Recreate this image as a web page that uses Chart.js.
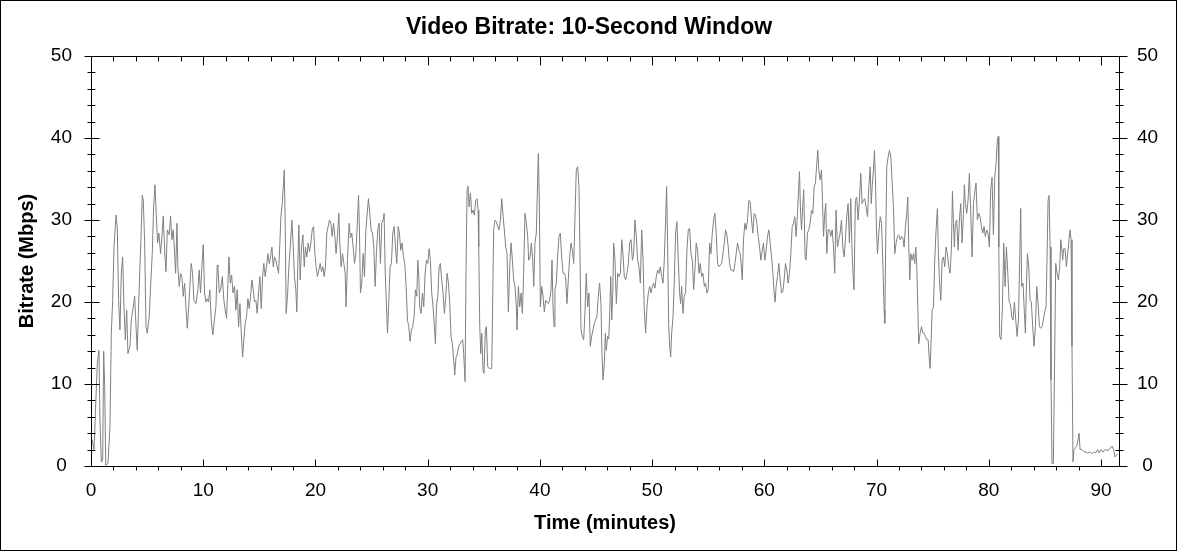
<!DOCTYPE html>
<html>
<head>
<meta charset="utf-8">
<title>Video Bitrate</title>
<script src="https://cdn.jsdelivr.net/npm/chart.js@4.4.1/dist/chart.umd.min.js"></script>
<style>
  html, body { margin: 0; padding: 0; background: #fff; }
  #wrap { width: 1178px; height: 552px; }
</style>
</head>
<body>
<div id="wrap"><canvas id="bitrate-chart" width="1178" height="552"></canvas></div>
<script>
// time (minutes) of each sample
var minutes = [
  0, 0.09, 0.27, 0.39, 0.56, 0.71, 0.80, 0.92, 1.04, 1.13, 1.22, 1.31, 1.51, 1.69, 1.81, 1.93, 2.05, 2.23, 2.34, 2.46, 2.58,
  2.70, 2.82, 2.94, 3.06, 3.18, 3.29, 3.47, 3.59, 3.77, 3.89, 4.01, 4.12, 4.24, 4.36, 4.48, 4.57, 4.66, 4.78, 4.90, 5.01,
  5.19, 5.31, 5.46, 5.58, 5.70, 5.82, 5.93, 6.05, 6.20, 6.32, 6.44, 6.56, 6.68, 6.80, 6.97, 7.09, 7.21, 7.33, 7.45, 7.54,
  7.66, 7.74, 7.86, 7.98, 8.10, 8.22, 8.34, 8.46, 8.58, 8.69, 8.81, 8.93, 9.05, 9.17, 9.35, 9.53, 9.64, 9.76, 9.88, 10.00,
  10.12, 10.24, 10.36, 10.47, 10.59, 10.71, 10.86, 11.01, 11.13, 11.25,
  11.31, 11.43, 11.55, 11.70, 11.84, 11.96, 12.08, 12.20, 12.29, 12.41, 12.53, 12.65, 12.79, 12.91, 13.03, 13.15, 13.27, 13.39, 13.51, 13.62,
  13.74, 13.86, 13.98, 14.10, 14.22, 14.34, 14.46, 14.57, 14.69, 14.81, 14.93, 15.05, 15.17, 15.29, 15.40, 15.52, 15.64, 15.76, 15.88, 16.00,
  16.12, 16.24, 16.35, 16.47, 16.59, 16.71, 16.83, 16.92, 17.04, 17.16, 17.22, 17.30, 17.39, 17.51, 17.63, 17.78, 17.90, 18.02, 18.13, 18.25,
  18.34, 18.43, 18.52, 18.64, 18.76, 18.88, 19.00, 19.11, 19.23, 19.35, 19.47, 19.59, 19.71, 19.83, 19.95, 20.06, 20.18, 20.30, 20.42, 20.54,
  20.66, 20.78, 20.89, 21.01, 21.13, 21.25, 21.37, 21.49, 21.61, 21.73, 21.84, 21.96, 22.08, 22.17, 22.29, 22.41, 22.53, 22.65, 22.73, 22.85,
  23.00, 23.12, 23.24, 23.36, 23.48, 23.60, 23.72, 23.84, 23.92, 24.01, 24.13, 24.25, 24.37, 24.49, 24.61, 24.72, 24.84, 24.96, 25.08, 25.20,
  25.32, 25.44, 25.56, 25.67, 25.79, 25.91, 26.03, 26.12, 26.21, 26.33, 26.42, 26.54, 26.65, 26.77, 26.89, 27.01, 27.13, 27.25, 27.37, 27.48,
  27.60, 27.72, 27.84, 27.96, 28.08, 28.20, 28.32, 28.43, 28.55, 28.67, 28.79, 28.91, 29.03, 29.12, 29.21, 29.29, 29.41, 29.53, 29.65, 29.77,
  29.89, 30.01, 30.13, 30.24, 30.36, 30.48, 30.60, 30.69, 30.78, 30.90, 31.02, 31.13, 31.25, 31.37, 31.49, 31.61, 31.73, 31.85, 31.97, 32.08,
  32.20, 32.32, 32.41, 32.53, 32.65, 32.77, 32.89, 33.00, 33.12, 33.21, 33.33, 33.42, 33.51, 33.60, 33.69, 33.81, 33.92, 34.04, 34.16, 34.28,
  34.40, 34.49,
  34.55, 34.64, 34.73, 34.82, 34.93, 35.02, 35.14, 35.23, 35.35, 35.47, 35.59, 35.71, 35.80, 35.88, 36.00, 36.12, 36.24, 36.36, 36.48, 36.60,
  36.72, 36.83, 36.95, 37.07, 37.19, 37.31, 37.43, 37.55, 37.66, 37.78, 37.90, 37.96, 38.08, 38.20, 38.32, 38.44, 38.55, 38.67, 38.79, 38.91,
  39.00, 39.12, 39.24, 39.36, 39.45, 39.56, 39.68, 39.77, 39.86, 39.95, 40.04, 40.16, 40.28, 40.39, 40.51, 40.63, 40.75, 40.87, 40.99, 41.08,
  41.17, 41.26, 41.34, 41.46, 41.58, 41.70, 41.82, 41.94, 42.06, 42.18, 42.29, 42.41, 42.53, 42.65, 42.77, 42.89, 43.01, 43.12, 43.24, 43.36,
  43.48, 43.57, 43.66, 43.78, 43.90, 44.01, 44.13, 44.25, 44.37, 44.49, 44.61, 44.73, 44.85, 44.96, 45.08, 45.20, 45.32, 45.44, 45.53, 45.62,
  45.74, 45.83, 45.91, 46.03,
  46.13, 46.22, 46.31, 46.40, 46.49, 46.57, 46.69, 46.81, 46.93, 47.05, 47.17, 47.29, 47.40, 47.52, 47.64, 47.76, 47.88, 48.00, 48.12,
  48.24, 48.35, 48.47, 48.59, 48.71, 48.83, 48.95, 49.07, 49.19, 49.30, 49.42, 49.54, 49.66, 49.78, 49.90, 50.02, 50.13, 50.25, 50.37, 50.49,
  50.61, 50.73, 50.85, 50.97, 51.08, 51.20, 51.29, 51.38, 51.47, 51.56, 51.65, 51.74, 51.86, 51.97, 52.09, 52.21, 52.33, 52.45, 52.54, 52.63,
  52.75, 52.86, 52.98, 53.10, 53.22, 53.34, 53.46, 53.58, 53.70, 53.81, 53.93, 54.05, 54.17, 54.29, 54.41, 54.53, 54.65, 54.76, 54.88, 55.00,
  55.12, 55.24, 55.36, 55.48, 55.59, 55.71, 55.83, 55.95, 56.07, 56.19, 56.31, 56.43, 56.54, 56.66, 56.78, 56.90, 57.02, 57.14, 57.26, 57.38,
  57.49,
  57.61, 57.73, 57.85, 57.97, 58.03, 58.14, 58.26, 58.38, 58.50, 58.62, 58.74, 58.86, 58.97, 59.09, 59.21, 59.33, 59.45, 59.57, 59.69, 59.81,
  59.92, 60.04, 60.16, 60.28, 60.40, 60.52, 60.64, 60.76, 60.87, 60.96, 61.05, 61.17, 61.29, 61.41, 61.53, 61.65, 61.76, 61.88, 62.00, 62.12,
  62.24, 62.36, 62.48, 62.60, 62.71, 62.83, 62.95, 63.04, 63.13, 63.22, 63.31, 63.43, 63.51, 63.63, 63.72, 63.84, 63.96, 64.08, 64.20, 64.32,
  64.44, 64.55, 64.67, 64.76, 64.85, 64.97, 65.09, 65.18, 65.27, 65.38, 65.47, 65.56, 65.68, 65.80, 65.92, 66.04, 66.16, 66.27, 66.39, 66.51,
  66.63, 66.75, 66.87, 66.99, 67.11, 67.22, 67.34, 67.46, 67.58, 67.70, 67.82, 67.94, 67.99, 68.11, 68.23, 68.35, 68.47, 68.59, 68.71, 68.83,
  68.94, 69.06,
  69.19, 69.31, 69.43, 69.52, 69.61, 69.72, 69.81, 69.90, 69.99, 70.08, 70.20, 70.32, 70.44, 70.55, 70.67, 70.73, 70.82, 70.91, 71.03, 71.15,
  71.27, 71.39, 71.50, 71.62, 71.74, 71.86, 71.98, 72.10, 72.22, 72.34, 72.45, 72.57, 72.69, 72.78, 72.87, 72.96, 73.05, 73.17, 73.29, 73.40,
  73.49, 73.58, 73.67, 73.76, 73.88, 74.00, 74.12, 74.23, 74.35, 74.47, 74.59, 74.68, 74.77, 74.86, 74.95, 75.07, 75.18, 75.30, 75.42, 75.51,
  75.60, 75.72, 75.84, 75.96, 76.07, 76.19, 76.31, 76.43, 76.55, 76.67, 76.76, 76.85, 76.93, 77.02, 77.14, 77.26, 77.38, 77.50, 77.62, 77.74,
  77.82, 77.91, 78.03, 78.15, 78.27, 78.39, 78.51, 78.63, 78.74, 78.86, 78.98, 79.10, 79.22, 79.34, 79.46, 79.58, 79.69, 79.81, 79.93, 80.05,
  80.17, 80.29, 80.41, 80.53, 80.65, 80.76, 80.85,
  80.89, 80.97, 81.09, 81.21, 81.33, 81.45, 81.57, 81.69, 81.81, 81.92, 82.04, 82.16, 82.28, 82.40, 82.52, 82.64, 82.76, 82.84, 82.93, 83.05,
  83.17, 83.26, 83.35, 83.44, 83.56, 83.68, 83.79, 83.91, 84.03, 84.15, 84.27, 84.39, 84.51, 84.62, 84.74, 84.86, 84.98, 85.10, 85.19, 85.28,
  85.37, 85.46, 85.54, 85.63, 85.75, 85.87, 85.96, 86.08, 86.20, 86.32, 86.41, 86.49, 86.58, 86.67, 86.79, 86.91, 87.03, 87.15, 87.24, 87.33,
  87.41, 87.50, 87.59, 87.71, 87.83, 87.95, 88.04, 88.13, 88.27, 88.45, 88.63, 88.81, 88.99, 89.16, 89.34, 89.52, 89.70, 89.82, 90.00, 90.17,
  90.35, 90.53, 90.71, 90.89, 91.00, 91.12, 91.24, 91.36, 91.48
];

// bitrate (Mbps) over the 10-second window
var mbps = [
  2.8, 3.2, 2, 6.4, 12.5, 14.1, 5.6, 0.5, 0.7, 14, 9.7, 0.1, 0.3, 4.8, 16.2, 20.2, 26.7, 30.6, 29.2, 20.2, 16.6,
  23.5, 25.5, 19.4, 15.4, 19, 13.7, 14.6, 17.8, 19.4, 20.7, 17, 14.1, 19.4, 24.3, 28.8, 33, 32.4, 27.2, 17, 16.2,
  18.2, 21.9, 25.9, 31.6, 34.3, 30.5, 27.2, 28.4, 25.9, 28, 30.5, 26.3, 23.7, 28.8, 28.2, 30.5, 27.6, 28.8, 25.9, 23.5,
  29.6, 24.3, 21.9, 23.5, 23.1, 20.7, 22.3, 19.4, 16.8, 19, 21.9, 24.7, 23.5, 20.2, 19.8, 21.5, 23.9, 21.1, 24.3, 27,
  21.1, 20, 20.4, 20, 21.5, 17.8, 16, 18, 19.4, 24.5,
  24.3, 21.1, 21.5, 23.1, 20.2, 19, 18, 22.3, 25.5, 22.3, 23.3, 21.1, 21.9, 19, 21.5, 17, 19.8, 16.2, 13.3, 15.4,
  17.4, 18.2, 20.4, 19.2, 20.7, 22.7, 21.5, 20, 20.2, 18.6, 21.1, 23.1, 19.2, 23.1, 24.7, 23.1, 24.3, 25.9, 24.7, 25.5,
  26.7, 24.3, 25.5, 25.1, 24.3, 23.5, 27.2, 30.4, 32, 34.7, 36.1, 30, 18.6, 20.7, 24.3, 27.2, 30, 26.7, 23.1, 21.5,
  18.8, 24.7, 29.4, 22.7, 26.7, 28.2, 24.3, 26.7, 25.5, 27.2, 26.1, 27.2, 28.8, 29.2, 25.9, 24.3, 23.1, 23.9, 24.7, 23.7,
  24.3, 23.1, 24.3, 28.4, 29.2, 30, 29.6, 28, 29.6, 28, 25.9, 28, 30.8, 27.2, 24.3, 25.9, 24.7, 23.5, 19.4, 25.1,
  29.6, 27.8, 28.4, 26.7, 24.7, 25.9, 29.2, 33, 28.8, 21.1, 22.3, 25.9, 23.1, 28.8, 30.8, 32.6, 30.8, 28.8, 28.4, 26.7,
  21.9, 26.3, 28.8, 29.6, 24.7, 29.6, 30, 30.8, 23.9, 19.4, 16.2, 20.2, 24.3, 24.7, 28.4, 29.2, 26.7, 24.7, 29.2, 28.4,
  26.3, 27.2, 25.5, 24.7, 21.9, 17.8, 17, 15.2, 16.6, 17, 18.2, 21.5, 20.7, 25.1, 23.1, 19.4, 18.6, 21.1, 19.4, 23.5,
  25.1, 24.7, 26.5, 25.1, 21.1, 19.4, 17, 14.9, 19.4, 20.7, 24.3, 24.7, 22.7, 21.1, 18.6, 20.7, 23.5, 22.3, 19.8, 15.8,
  14.9, 12.9, 11.1, 13.3, 13.7, 14.6, 14.9, 15.2, 15.4, 13.7, 10.3, 24.3, 33.7, 34.1, 31.6, 33.3, 30.8, 31.2, 30.6, 32.4,
  32.6, 31.2,
  26.7, 17, 13.7, 16.2, 11.7, 11.3, 16.6, 17, 12.1, 11.9, 11.9, 11.9, 20.7, 28.8, 30, 29.8, 29.2, 28.8, 30, 32.6,
  30.4, 28.8, 26.7, 25.9, 18.8, 24.3, 27.2, 25.1, 22.7, 21.9, 19.4, 16.6, 21.9, 19.4, 21.1, 18.6, 23.5, 30.8, 29.6, 28,
  25.1, 25.5, 27.2, 25.1, 21.9, 27.2, 28.4, 33.3, 38.1, 32, 19.4, 21.9, 20.7, 18.8, 20.2, 20, 19.8, 20.2, 21.5, 25.1,
  19.4, 17, 21.5, 22.3, 25.5, 28, 28.4, 25.5, 23.5, 23.5, 23.1, 19.8, 22.7, 25.5, 27.2, 26.3, 24.7, 30, 36.1, 36.5,
  34.1, 25.9, 16.6, 15.8, 15.4, 18.6, 23.5, 19.4, 21.1, 14.6, 15.8, 16.6, 17.4, 17.8, 18.2, 20.7, 22.3, 19.8, 13.7, 10.5,
  12.5, 16.2, 14.1, 15.8,
  15.5, 18.6, 23.1, 17.8, 21.1, 27.2, 25.1, 19.8, 23.5, 23.1, 23.5, 27.6, 25.9, 23.1, 22.7, 23.5, 24.7, 27.2, 27.6,
  25.1, 25.9, 30, 28, 25.1, 24.3, 22.3, 28.8, 25.1, 19, 16.2, 19.4, 21.1, 21.9, 21.1, 21.9, 22.3, 21.7, 23.1, 23.9,
  23.5, 24.3, 23.1, 22.3, 25.1, 30, 34.1, 27.2, 17.4, 14.6, 13.3, 16.2, 18.2, 22.3, 28.4, 29.8, 25.1, 21.1, 19.8, 21.9,
  18.6, 20.7, 21.1, 26.3, 28.8, 29, 25.9, 25.1, 21.5, 23.9, 27.2, 26.3, 23.5, 24.7, 23.1, 23.5, 21.9, 22.3, 21.1, 21.5,
  27.2, 25.9, 28.4, 30, 30.8, 28.4, 24.7, 24.3, 24.5, 24.7, 25.9, 27.2, 28.8, 28.2, 26.7, 24.7, 23.9, 23.9, 23.7, 24.7,
  25.9,
  27.2, 26.3, 25.9, 23.9, 22.7, 27.6, 29.6, 28.8, 30, 32.4, 32.2, 30, 28.4, 30.8, 30.6, 29.6, 28, 26.7, 25.1, 26.3,
  27.2, 25.1, 26.3, 28, 28.8, 27.2, 25.5, 23.5, 21.1, 20, 21.9, 23.1, 24.7, 22.7, 21.1, 21.3, 22.7, 24.7, 23.9, 22.3,
  23.5, 25.9, 29.2, 29.6, 30.4, 28, 30.8, 33.3, 35.9, 31.2, 28.8, 32, 33.7, 25.5, 25.1, 28.4, 28.8, 29.6, 31.2, 30.8,
  34.1, 34.5, 36.9, 38.5, 36.1, 34.9, 36.1, 32.4, 28, 30.8, 32, 25.9, 28.8, 28.8, 28, 28.8, 26.7, 23.5, 31.2, 26.7,
  27.6, 28.4, 30, 26.7, 25.5, 27.6, 30.4, 32, 27.2, 32.6, 25.9, 22.3, 21.5, 32.4, 32.8, 30, 32.4, 35.7, 32, 32.4,
  32.6, 31.6,
  30.4, 34.1, 36.5, 32, 34.1, 36.1, 38.5, 34.9, 28.8, 25.9, 28.4, 30.4, 29.6, 25.1, 19, 17.4, 28, 36.5, 37.7, 38.5,
  37.7, 34.5, 31.6, 25.9, 27.2, 28, 28.2, 27.6, 28, 27.8, 26.7, 29.2, 30.8, 32.8, 26.7, 22.7, 25.9, 25.1, 25.9, 24.7,
  26.7, 24.3, 19.4, 14.9, 16.2, 17, 16.2, 16.2, 15.8, 15.4, 15.4, 13.3, 11.9, 15.4, 19, 19.4, 25.1, 28.8, 31.4, 25.9,
  22.7, 20.2, 25.1, 25.5, 24.3, 26.7, 25.9, 24.3, 23.5, 26.7, 33.5, 29.6, 26.7, 29.6, 30, 26.3, 30, 32, 27.2, 30.8,
  34.3, 32, 30.8, 32.4, 35.7, 30.8, 25.5, 32, 33.3, 34.5, 30, 30.8, 30.4, 29.2, 28.4, 29.2, 28, 28.8, 28.4, 26.7,
  33.7, 35.2, 28.2, 35.2, 36.9, 39.8, 40.2,
  26.7, 15.8, 15.4, 19.4, 27.2, 21.9, 26.7, 23.5, 20, 19.8, 18.2, 17.8, 20, 17.8, 15.8, 17.8, 25.9, 31.4, 21.9, 22.3,
  18.6, 16.2, 21.9, 25.9, 24.3, 20.2, 20, 17, 14.6, 17, 21.9, 19.8, 17, 16.8, 17, 17.8, 18.8, 19.4, 25.5, 32.4,
  33, 26.7, 10.5, 0.3, 0.3, 13.7, 24.7, 23.5, 22.7, 24.3, 27.6, 26.7, 25.1, 26.5, 26.5, 24.3, 25.9, 27.6, 28.8, 27.6,
  14.6, 0.5, 2, 2.2, 2.4, 3.2, 4, 2, 2, 1.8, 1.7, 1.6, 1.7, 1.5, 1.7, 1.6, 2, 1.6, 2, 1.7,
  2, 1.9, 2, 2.3, 2.4, 2, 1.1, 1.3, 1.5
];

var xTicks = [0, 10, 20, 30, 40, 50, 60, 70, 80, 90];
var yTicks = [0, 10, 20, 30, 40, 50];
var xMax = 91.6;
var minorStep = 2;

var FONT = "'Liberation Sans', Arial, sans-serif";

// axis box, minor/major tick marks and the outer frame
var frame = {
    id: 'frame',
    afterDraw: function (chart) {
        var ctx = chart.ctx, a = chart.chartArea;
        var sx = chart.scales.x, sy = chart.scales.y;
        var L = Math.round(a.left) + 0.5, R = Math.round(a.right) + 0.5;
        var T = Math.round(a.top) + 0.5, B = Math.round(a.bottom) + 0.5;
        ctx.save();
        ctx.strokeStyle = '#000';
        ctx.lineWidth = 1;
        ctx.strokeRect(0.5, 0.5, chart.width - 2, chart.height - 2);
        ctx.strokeRect(L, T, R - L, B - T);
        ctx.beginPath();
        for (var v = 0; v <= 50; v += minorStep) {
            var y = Math.round(sy.getPixelForValue(v)) + 0.5;
            var major = v % 10 === 0;
            ctx.moveTo(L - (major ? 7 : 4), y); ctx.lineTo(L + (major ? 8 : 4), y);
            ctx.moveTo(R - (major ? 7 : 4), y); ctx.lineTo(R + (major ? 8 : 4), y);
        }
        for (var m = 0; m <= xMax; m += minorStep) {
            var x = Math.round(sx.getPixelForValue(m)) + 0.5;
            if (m % 10 === 0) {
                ctx.moveTo(x, B); ctx.lineTo(x, B - 7);
                ctx.moveTo(x, T); ctx.lineTo(x, T + 9);
            } else {
                ctx.moveTo(x, B); ctx.lineTo(x, B + 4);
                ctx.moveTo(x, T); ctx.lineTo(x, T + 5);
            }
        }
        ctx.stroke();
        ctx.restore();
    }
};

var tickFont = {family: FONT, size: 19};

var ctx = document.getElementById('bitrate-chart').getContext('2d');
new Chart(ctx, {
    type: 'line',
    data: {
        datasets: [{
            data: minutes.map(function (t, i) { return {x: t, y: mbps[i]}; }),
            borderColor: '#808080',
            borderWidth: 1,
            pointRadius: 0,
            tension: 0,
            fill: false
        }]
    },
    options: {
        responsive: false,
        animation: false,
        layout: {padding: 0},
        plugins: {
            legend: {display: false},
            tooltip: {enabled: false},
            title: {
                display: true,
                text: 'Video Bitrate: 10-Second Window',
                color: '#000',
                font: {family: FONT, size: 23, weight: 'bold'},
                padding: {top: 14, bottom: 14.4}
            }
        },
        scales: {
            x: {
                type: 'linear',
                position: 'bottom',
                min: 0,
                max: xMax,
                afterBuildTicks: function (s) { s.ticks = xTicks.map(function (v) { return {value: v}; }); },
                afterFit: function (s) { s.height = 86; },
                grid: {display: false, drawTicks: false},
                border: {display: false},
                ticks: {color: '#000', font: tickFont, padding: 13, maxRotation: 0, autoSkip: false},
                title: {
                    display: true,
                    text: 'Time (minutes)',
                    color: '#000',
                    font: {family: FONT, size: 20, weight: 'bold'},
                    padding: {top: 0, bottom: 17}
                }
            },
            y: {
                position: 'left',
                min: 0,
                max: 50,
                afterBuildTicks: function (s) { s.ticks = yTicks.map(function (v) { return {value: v}; }); },
                afterFit: function (s) { s.width = 91; },
                grid: {display: false, drawTicks: false},
                border: {display: false},
                ticks: {color: '#000', font: tickFont, padding: 19, crossAlign: 'center'},
                title: {
                    display: true,
                    text: 'Bitrate (Mbps)',
                    color: '#000',
                    font: {family: FONT, size: 20, weight: 'bold'},
                    padding: {top: 15, bottom: 0}
                }
            },
            y2: {
                position: 'right',
                display: true,
                min: 0,
                max: 50,
                afterBuildTicks: function (s) { s.ticks = yTicks.map(function (v) { return {value: v}; }); },
                afterFit: function (s) { s.width = 59; },
                grid: {display: false, drawTicks: false},
                border: {display: false},
                ticks: {color: '#000', font: tickFont, padding: 18, crossAlign: 'center'}
            }
        }
    },
    plugins: [frame]
});
</script>
</body>
</html>
